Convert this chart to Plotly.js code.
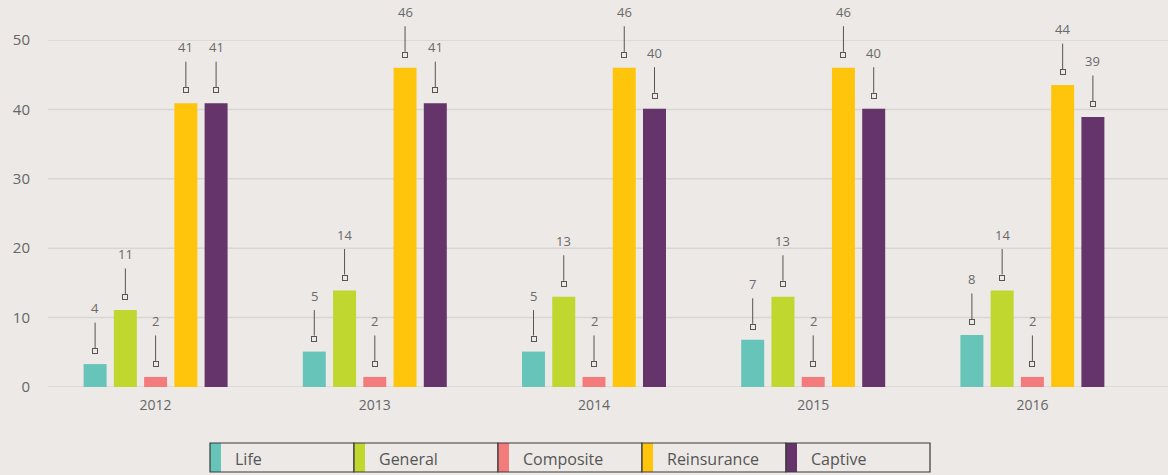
<!DOCTYPE html>
<html>
<head>
<meta charset="utf-8">
<script src="https://cdn.plot.ly/plotly-3.0.1.min.js"></script>
<style>
  html, body { margin: 0; padding: 0; background: #ECE9E6; }
  #chart { width: 1168px; height: 475px; }
</style>
</head>
<body>
<div id="chart"></div>
<script>
// ---- data ----
const years = ['2012', '2013', '2014', '2015', '2016'];
const seriesNames = ['Life', 'General', 'Composite', 'Reinsurance', 'Captive'];
const seriesColors = ['#66C5B8', '#C0D72F', '#F47B7C', '#FFC50C', '#64346B'];

const life        = [3.3, 5.1, 5.1, 6.8, 7.5];
const general     = [11.1, 13.9, 13.0, 13.0, 13.9];
const composite   = [1.45, 1.45, 1.45, 1.45, 1.45];
const reinsurance = [40.9, 46.0, 46.0, 46.0, 43.5];
const captive     = [40.9, 40.9, 40.1, 40.1, 38.9];

const lifeLabels        = ['4', '5', '5', '7', '8'];
const generalLabels     = ['11', '14', '13', '13', '14'];
const compositeLabels   = ['2', '2', '2', '2', '2'];
const reinsuranceLabels = ['41', '46', '46', '46', '44'];
const captiveLabels     = ['41', '41', '40', '40', '39'];

const yTicks = [0, 10, 20, 30, 40, 50];

const seriesValues = [life, general, composite, reinsurance, captive];
const seriesLabels = [lifeLabels, generalLabels, compositeLabels, reinsuranceLabels, captiveLabels];

// ---- layout constants ----
const W = 1168, H = 475;
const M = { l: 46, r: 26, t: 40, b: 88 };
const BG = '#ECE9E6';
const FONT = 'Open Sans, Noto Sans, sans-serif';
const BARGAP = 0.31, BARGROUPGAP = 0.24;
const plotW = W - M.l - M.r, plotH = H - M.t - M.b;
const pxX = px => (px - M.l) / plotW;
const pxY = py => (H - M.b - py) / plotH;

// ---- traces ----
const traces = seriesNames.map((name, i) => ({
  type: 'bar',
  name: name,
  x: years,
  y: seriesValues[i],
  marker: { color: seriesColors[i], line: { width: 0 } },
  hoverinfo: 'x+y+name',
  showlegend: false
}));

// ---- annotations (value labels with leader line + open square) ----
const annotations = [];
const shapes = [];
const nS = seriesNames.length;
const groupW = 1 - BARGAP;
const slotW = groupW / nS;
seriesNames.forEach((name, i) => {
  years.forEach((yr, j) => {
    const xc = j - groupW / 2 + (i + 0.5) * slotW;
    const v = seriesValues[i][j];
    annotations.push({
      x: xc, y: v, xref: 'x', yref: 'y',
      text: seriesLabels[i][j],
      showarrow: true, arrowhead: 0, arrowwidth: 1, arrowcolor: '#555555',
      ax: 0, ay: -43, yshift: 13, standoff: 3, borderpad: 5,
      font: { family: FONT, size: 13, color: '#6a6a6a' }
    });
    annotations.push({
      x: xc, y: v, xref: 'x', yref: 'y',
      text: ' ', showarrow: false,
      width: 4, height: 4, borderpad: 0, borderwidth: 1,
      bordercolor: '#555555', bgcolor: BG, yshift: 13,
      font: { family: FONT, size: 2, color: BG }
    });
  });
});

// ---- grid lines ----
yTicks.forEach(t => {
  shapes.push({
    type: 'line', xref: 'paper', yref: 'y', layer: 'below',
    x0: pxX(48), x1: pxX(W), y0: t, y1: t,
    line: { color: '#D8D5D2', width: 1.5 }
  });
});

// ---- custom legend ----
const legLeft = 210, legItemW = 144, legTop = 443, legBot = 472, stripeW = 11;
seriesNames.forEach((name, i) => {
  const x0 = legLeft + i * legItemW;
  shapes.push({
    type: 'rect', xref: 'paper', yref: 'paper',
    x0: pxX(x0), x1: pxX(x0 + stripeW), y0: pxY(legBot), y1: pxY(legTop),
    fillcolor: seriesColors[i], line: { width: 0 }
  });
  shapes.push({
    type: 'rect', xref: 'paper', yref: 'paper',
    x0: pxX(x0), x1: pxX(x0 + legItemW), y0: pxY(legBot), y1: pxY(legTop),
    fillcolor: 'rgba(0,0,0,0)', line: { color: '#3a3a3a', width: 1.2 }
  });
  annotations.push({
    xref: 'paper', yref: 'paper',
    x: pxX(x0 + 23), y: pxY((legTop + legBot) / 2 + 1),
    xanchor: 'left', yanchor: 'middle', showarrow: false,
    text: name, font: { family: FONT, size: 16, color: '#555555' }
  });
});

const layout = {
  width: W, height: H,
  margin: M,
  paper_bgcolor: BG, plot_bgcolor: BG,
  barmode: 'group', bargap: BARGAP, bargroupgap: BARGROUPGAP,
  showlegend: false,
  font: { family: FONT, color: '#666666' },
  xaxis: {
    type: 'category', showgrid: false, zeroline: false, showline: false,
    ticks: '', tickfont: { family: FONT, size: 14, color: '#666666' },
    ticklabelstandoff: 8
  },
  yaxis: {
    range: [0, 50], tickvals: yTicks, showgrid: false, zeroline: false,
    showline: false, ticks: '',
    tickfont: { family: FONT, size: 15, color: '#666666' },
    ticklabelstandoff: 15
  },
  shapes: shapes,
  annotations: annotations
};

Plotly.newPlot('chart', traces, layout, { displayModeBar: false, staticPlot: true });
</script>
</body>
</html>
